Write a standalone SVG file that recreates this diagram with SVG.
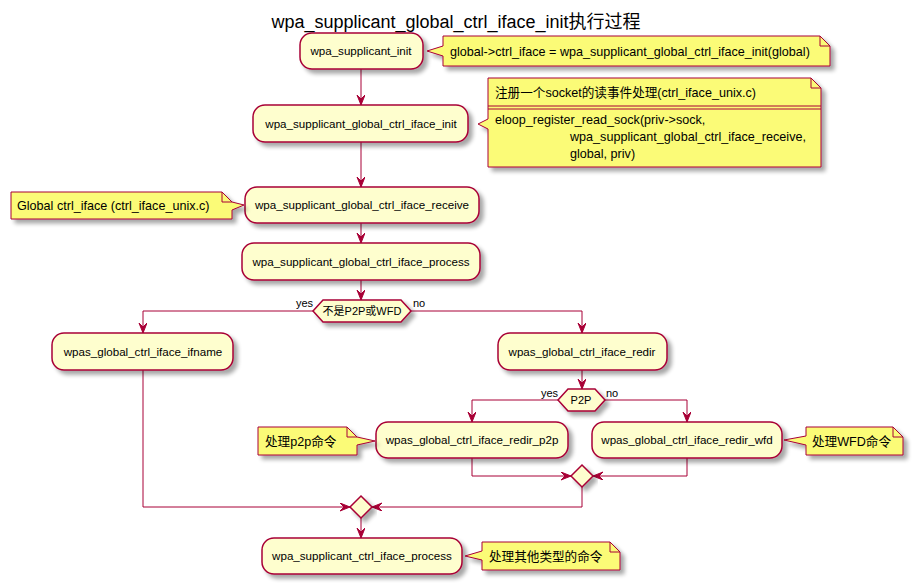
<svg xmlns="http://www.w3.org/2000/svg" width="914" height="584" viewBox="0 0 914 584">
<defs>
<filter id="sh" x="-10%" y="-20%" width="130%" height="160%">
<feGaussianBlur in="SourceAlpha" stdDeviation="2"/>
<feOffset dx="4" dy="4" result="b"/>
<feComponentTransfer><feFuncA type="linear" slope="0.35"/></feComponentTransfer>
<feMerge><feMergeNode/><feMergeNode in="SourceGraphic"/></feMerge>
</filter>
<marker id="ah" markerUnits="userSpaceOnUse" markerWidth="12" markerHeight="10" refX="10" refY="4" orient="auto">
<path d="M0,0 L10,4 L0,8 L4,4 Z" fill="#A80036" stroke="#A80036" stroke-width="1"/>
</marker>
</defs>
<style>
text{font-family:"Liberation Sans","Noto Sans CJK SC",sans-serif;fill:#000000}
.act{fill:#FEFECE;stroke:#A80036;stroke-width:1.5;filter:url(#sh)}
.note{fill:#FBFB77;stroke:#A80036;stroke-width:1;filter:url(#sh)}
.fold{fill:none;stroke:#A80036;stroke-width:1}
.c{fill:none;stroke:#A80036;stroke-width:1;marker-end:url(#ah)}
.t12{font-size:11.6px;text-anchor:middle}
.t13{font-size:12.6px}
.t11{font-size:11px}
</style>
<rect width="914" height="584" fill="#FFFFFF"/>
<text x="456" y="28" style="font-size:18px;text-anchor:middle">wpa_supplicant_global_ctrl_iface_init执行过程</text>

<g id="connectors">
<path class="c" d="M361,69 L361,105"/>
<path class="c" d="M361,142 L361,187"/>
<path class="c" d="M361,223 L361,243"/>
<path class="c" d="M361,280 L361,300"/>
<path class="c" d="M313,311 L143,311 L143,333"/>
<path class="c" d="M411,311 L582,311 L582,333"/>
<path class="c" d="M582,370 L582,389"/>
<path class="c" d="M558,400 L472,400 L472,422"/>
<path class="c" d="M605,400 L687,400 L687,422"/>
<path class="c" d="M472,458 L472,476 L571,476"/>
<path class="c" d="M687,458 L687,476 L593,476"/>
<path class="c" d="M582,487 L582,507 L372,507"/>
<path class="c" d="M143,370 L143,507 L350,507"/>
<path class="c" d="M361,518 L361,538"/>
<text class="t11" x="296" y="307">yes</text>
<text class="t11" x="413" y="307">no</text>
<text class="t11" x="541" y="397">yes</text>
<text class="t11" x="606" y="397">no</text>
</g>

<g id="n1">
<rect class="act" x="300" y="33" width="123" height="36" rx="12"/>
<text class="t12" x="361" y="55">wpa_supplicant_init</text>
</g>
<g id="note1">
<path class="note" d="M443,36 L820,36 L830,46 L830,66 L443,66 L443,56 L427,51 L443,46 Z"/>
<path class="fold" d="M820,36 L820,46 L830,46"/>
<text class="t13" x="450" y="56">global-&gt;ctrl_iface = wpa_supplicant_global_ctrl_iface_init(global)</text>
</g>

<g id="n2">
<rect class="act" x="253" y="105" width="215" height="37" rx="12"/>
<text class="t12" x="361" y="128">wpa_supplicant_global_ctrl_iface_init</text>
</g>
<g id="note2">
<path class="note" d="M488,78 L811,78 L821,88 L821,167 L488,167 L488,129 L478,124 L488,119 Z"/>
<path class="fold" d="M811,78 L811,88 L821,88"/>
<line x1="488" y1="106" x2="821" y2="106" stroke="#A80036" stroke-width="1"/>
<line x1="488" y1="109" x2="821" y2="109" stroke="#A80036" stroke-width="1"/>
<text class="t13" x="495" y="97">注册一个socket的读事件处理(ctrl_iface_unix.c)</text>
<text class="t13" x="495" y="124">eloop_register_read_sock(priv-&gt;sock,</text>
<text class="t13" x="570" y="141">wpa_supplicant_global_ctrl_iface_receive,</text>
<text class="t13" x="570" y="158">global, priv)</text>
</g>

<g id="n3">
<rect class="act" x="245" y="187" width="234" height="36" rx="12"/>
<text class="t12" x="362" y="209">wpa_supplicant_global_ctrl_iface_receive</text>
</g>
<g id="note3">
<path class="note" d="M11,192 L222,192 L232,202 L244,205 L232,210 L232,219 L11,219 Z"/>
<path class="fold" d="M222,192 L222,202 L232,202"/>
<text class="t13" x="17" y="210">Global ctrl_iface (ctrl_iface_unix.c)</text>
</g>

<g id="n4">
<rect class="act" x="242" y="243" width="238" height="37" rx="12"/>
<text class="t12" x="361" y="266">wpa_supplicant_global_ctrl_iface_process</text>
</g>

<g id="d1">
<polygon class="act" points="313,311 323,300 401,300 411,311 401,322 323,322"/>
<text class="t11" x="362" y="315" style="text-anchor:middle">不是P2P或WFD</text>
</g>

<g id="n5">
<rect class="act" x="52" y="333" width="181" height="37" rx="12"/>
<text class="t12" x="143" y="356">wpas_global_ctrl_iface_ifname</text>
</g>

<g id="n6">
<rect class="act" x="498" y="333" width="169" height="37" rx="12"/>
<text class="t12" x="582" y="356">wpas_global_ctrl_iface_redir</text>
</g>

<g id="d2">
<polygon class="act" points="558,400 568,389 595,389 605,400 595,411 568,411"/>
<text class="t11" x="581" y="404" style="text-anchor:middle">P2P</text>
</g>

<g id="n7">
<rect class="act" x="376" y="422" width="192" height="36" rx="12"/>
<text class="t12" x="472" y="444">wpas_global_ctrl_iface_redir_p2p</text>
</g>
<g id="note4">
<path class="note" d="M258,427 L347,427 L357,437 L375,441 L357,445 L357,455 L258,455 Z"/>
<path class="fold" d="M347,427 L347,437 L357,437"/>
<text class="t13" x="265" y="446">处理p2p命令</text>
</g>

<g id="n8">
<rect class="act" x="592" y="422" width="190" height="36" rx="12"/>
<text class="t12" x="687" y="444">wpas_global_ctrl_iface_redir_wfd</text>
</g>
<g id="note5">
<path class="note" d="M806,427 L893,427 L903,437 L903,455 L806,455 L806,445 L784,440 L806,436 Z"/>
<path class="fold" d="M893,427 L893,437 L903,437"/>
<text class="t13" x="812" y="446">处理WFD命令</text>
</g>

<g id="m1">
<polygon class="act" points="582,465 593,476 582,487 571,476"/>
</g>

<g id="m2">
<polygon class="act" points="361,496 372,507 361,518 350,507"/>
</g>

<g id="n9">
<rect class="act" x="262" y="538" width="200" height="36" rx="12"/>
<text class="t12" x="362" y="560">wpa_supplicant_ctrl_iface_process</text>
</g>
<g id="note6">
<path class="note" d="M482,542 L610,542 L620,552 L620,570 L482,570 L482,560 L465,556 L482,551 Z"/>
<path class="fold" d="M610,542 L610,552 L620,552"/>
<text class="t13" x="489" y="561">处理其他类型的命令</text>
</g>
</svg>
